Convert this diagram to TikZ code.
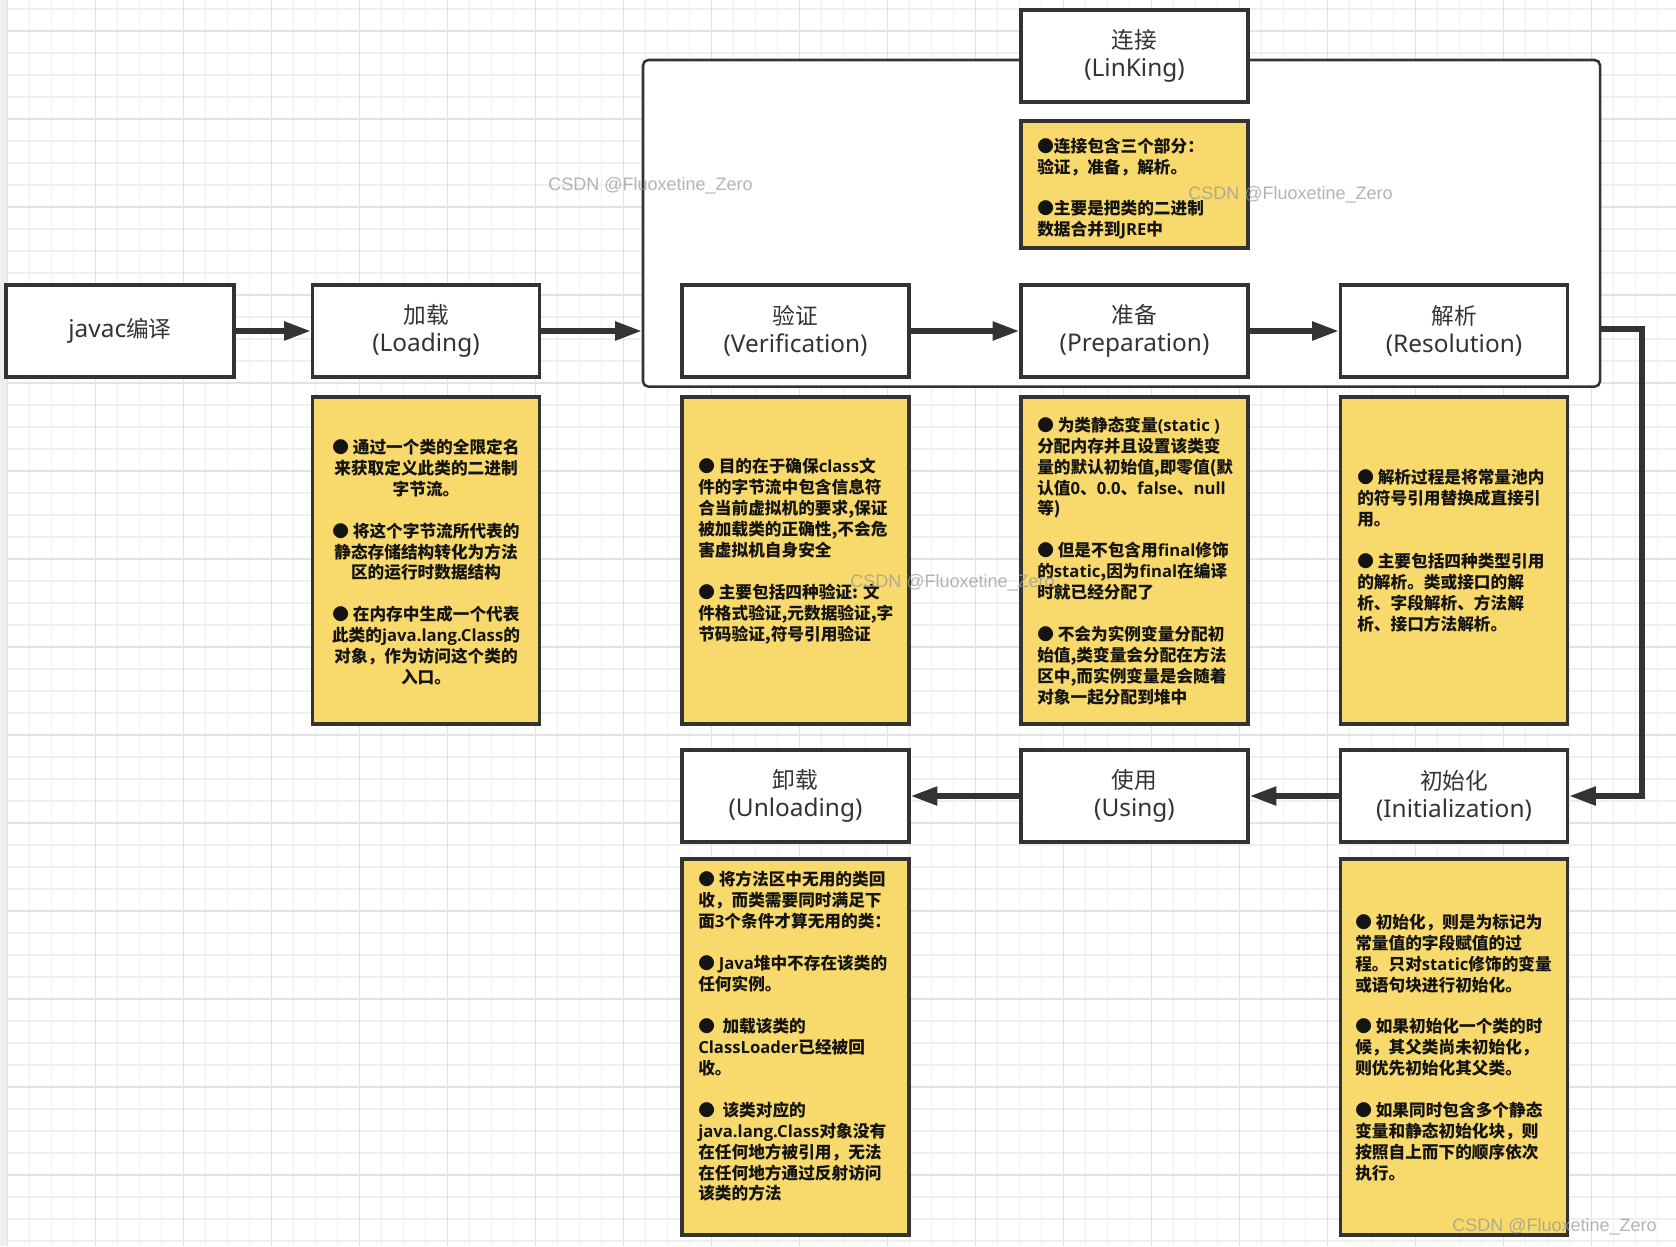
\documentclass[tikz,border=0pt]{standalone}
\usepackage{fontspec}
\setmainfont{Noto Sans CJK SC}
\newfontfamily\latb{Open Sans}
\newfontfamily\latt{Noto Sans}
\newfontfamily\wmfont{Liberation Sans}
\usetikzlibrary{arrows.meta}
\definecolor{dk}{HTML}{333333}
\definecolor{yel}{HTML}{F8D96B}
\definecolor{gmin}{HTML}{EFEFEF}
\definecolor{gmaj}{HTML}{E2E2E2}
\definecolor{wmc}{HTML}{9A9A9A}
\definecolor{txt}{HTML}{141414}
\newcommand\la[1]{{\latb #1}}
\newcommand\lt[1]{{\latt\fontsize{18.3pt}{21pt}\selectfont #1}}
\newcommand\blank{\\\mbox{}\\}
\begin{document}
\begin{tikzpicture}[x=0.75pt,y=-0.75pt,
  tbox/.style={draw=dk, line width=2.6pt, fill=white, minimum width=227*0.75pt, minimum height=92*0.75pt, inner sep=0pt, align=center, text=dk, font=\fontsize{17pt}{21pt}\selectfont},
  ybox/.style={draw=dk, line width=2.6pt, fill=yel, minimum width=227*0.75pt, inner sep=0pt},
  ytext/.style={inner sep=0pt, text=txt, font=\fontsize{12.5pt}{15.7pt}\selectfont\bfseries},
  flow/.style={draw=dk, line width=4pt, -{Triangle[length=20pt,width=13.5pt]}},
  wmark/.style={inner sep=0pt, anchor=west, text=wmc, opacity=0.75, font=\wmfont\fontsize{13.5pt}{16pt}\selectfont},
]
\useasboundingbox (0,0) rectangle (1676,1246);
\fill[white] (0,0) rectangle (1676,1246);
% grid
\foreach \i in {0,...,76} \draw[gmin, line width=0.8pt] ({7.3+22*\i},0) -- ++(0,1246);
\foreach \i in {0,...,56} \draw[gmin, line width=0.8pt] (0,{9+22*\i}) -- ++(1676,0);
\foreach \i in {0,...,19} \draw[gmaj, line width=1pt] ({7.3+88*\i},0) -- ++(0,1246);
\foreach \i in {0,...,13} \draw[gmaj, line width=1pt] (0,{31+88*\i}) -- ++(1676,0);
\fill[gmin] (0,0) rectangle (7,1246);

% linking group container
\node[draw=dk, line width=1.9pt, fill=white, rounded corners=4pt, minimum width=957*0.75pt, minimum height=326.6*0.75pt, inner sep=0pt] (grp) at (1121.5,223.3) {};

% title boxes
\node[tbox, minimum width=228*0.75pt] (javac) at (120,331) {\lt{javac}编译};
\node[tbox] (load) at (426,331) {加载\\\lt{(Loading)}};
\node[tbox] (link) at (1134.5,56) {连接\\\lt{(LinKing)}};
\node[tbox] (ver) at (795.5,331) {验证\\\lt{(Verification)}};
\node[tbox] (prep) at (1134.5,331) {准备\\\lt{(Preparation)}};
\node[tbox] (res) at (1454,331) {解析\\\lt{(Resolution)}};
\node[tbox] (unl) at (795.5,796) {卸载\\\lt{(Unloading)}};
\node[tbox] (use) at (1134.5,796) {使用\\\lt{(Using)}};
\node[tbox] (init) at (1454,796) {初始化\\\lt{(Initialization)}};

% yellow boxes
\node[ybox, minimum height=327*0.75pt] (yload) at (426,560.5) {};
\node[ybox, minimum height=127*0.75pt] (ylink) at (1134.5,184.5) {};
\node[ybox, minimum height=327*0.75pt] (yver) at (795.5,560.5) {};
\node[ybox, minimum height=327*0.75pt] (yprep) at (1134.5,560.5) {};
\node[ybox, minimum height=327*0.75pt] (yres) at (1454,560.5) {};
\node[ybox, minimum height=376*0.75pt] (yunl) at (795.5,1047) {};
\node[ybox, minimum height=376*0.75pt] (yinit) at (1454,1047) {};

% texts
\node[ytext, align=center] (tload) at (426,562) {%
● 通过一个类的全限定名\\
来获取定义此类的二进制\\
字节流。\blank
● 将这个字节流所代表的\\
静态存储结构转化为方法\\
区的运行时数据结构\blank
● 在内存中生成一个代表\\
此类的\la{java.lang.Class}的\\
对象，作为访问这个类的\\
入口。};

\node[ytext, align=left, anchor=west] (tlink) at (1037,188.5) {%
●连接包含三个部分：\\
验证，准备，解析。\blank
●主要是把类的二进制\\
数据合并到\la{JRE}中};

\node[ytext, align=left, anchor=west] (tver) at (698,551) {%
● 目的在于确保\la{class}文\\
件的字节流中包含信息符\\
合当前虚拟机的要求,保证\\
被加载类的正确性,不会危\\
害虚拟机自身安全\blank
● 主要包括四种验证: 文\\
件格式验证,元数据验证,字\\
节码验证,符号引用验证};

\node[ytext, align=left, anchor=west] (tprep) at (1037,561) {%
● 为类静态变量\la{(static )}\\
分配内存并且设置该类变\\
量的默认初始值,即零值(默\\
认值\la{0}、\la{0.0}、\la{false}、\la{null}\\
等)\blank
● 但是不包含用\la{final}修饰\\
的\la{static},因为\la{final}在编译\\
时就已经分配了\blank
● 不会为实例变量分配初\\
始值,类变量会分配在方法\\
区中,而实例变量是会随着\\
对象一起分配到堆中};

\node[ytext, align=left, anchor=west] (tres) at (1357,550.5) {%
● 解析过程是将常量池内\\
的符号引用替换成直接引\\
用。\blank
● 主要包括四种类型引用\\
的解析。类或接口的解\\
析、字段解析、方法解\\
析、接口方法解析。};

\node[ytext, align=left, anchor=west] (tunl) at (698,1036.5) {%
● 将方法区中无用的类回\\
收，而类需要同时满足下\\
面\la{3}个条件才算无用的类：\blank
● \la{Java}堆中不存在该类的\\
任何实例。\blank
● \ 加载该类的\\
\la{ClassLoader}已经被回\\
收。\blank
● \ 该类对应的\\
\la{java.lang.Class}对象没有\\
在任何地方被引用，无法\\
在任何地方通过反射访问\\
该类的方法};

\node[ytext, align=left, anchor=west] (tinit) at (1355,1047.5) {%
● 初始化，则是为标记为\\
常量值的字段赋值的过\\
程。只对\la{static}修饰的变量\\
或语句块进行初始化。\blank
● 如果初始化一个类的时\\
候，其父类尚未初始化，\\
则优先初始化其父类。\blank
● 如果同时包含多个静态\\
变量和静态初始化块，则\\
按照自上而下的顺序依次\\
执行。};

% connectors
\coordinate (turn) at (1642,329);
\draw[flow] (javac.east) -- (load.west);
\draw[flow] (load.east) -- (load.east -| grp.west);
\draw[flow] (ver.east) -- (prep.west);
\draw[flow] (prep.east) -- (res.west);
\draw[flow] (grp.east |- turn) -- (turn) |- (init.east);
\draw[flow] (init.west) -- (use.east);
\draw[flow] (use.west) -- (unl.east);

% watermarks
\node[wmark] (w1) at (548,186) {CSDN @Fluoxetine\_Zero};
\node[wmark] (w2) at (1188,195) {CSDN @Fluoxetine\_Zero};
\node[wmark] (w3) at (850,583) {CSDN @Fluoxetine\_Zero};
\node[wmark] (w4) at (1452,1227) {CSDN @Fluoxetine\_Zero};
\end{tikzpicture}
\end{document}
